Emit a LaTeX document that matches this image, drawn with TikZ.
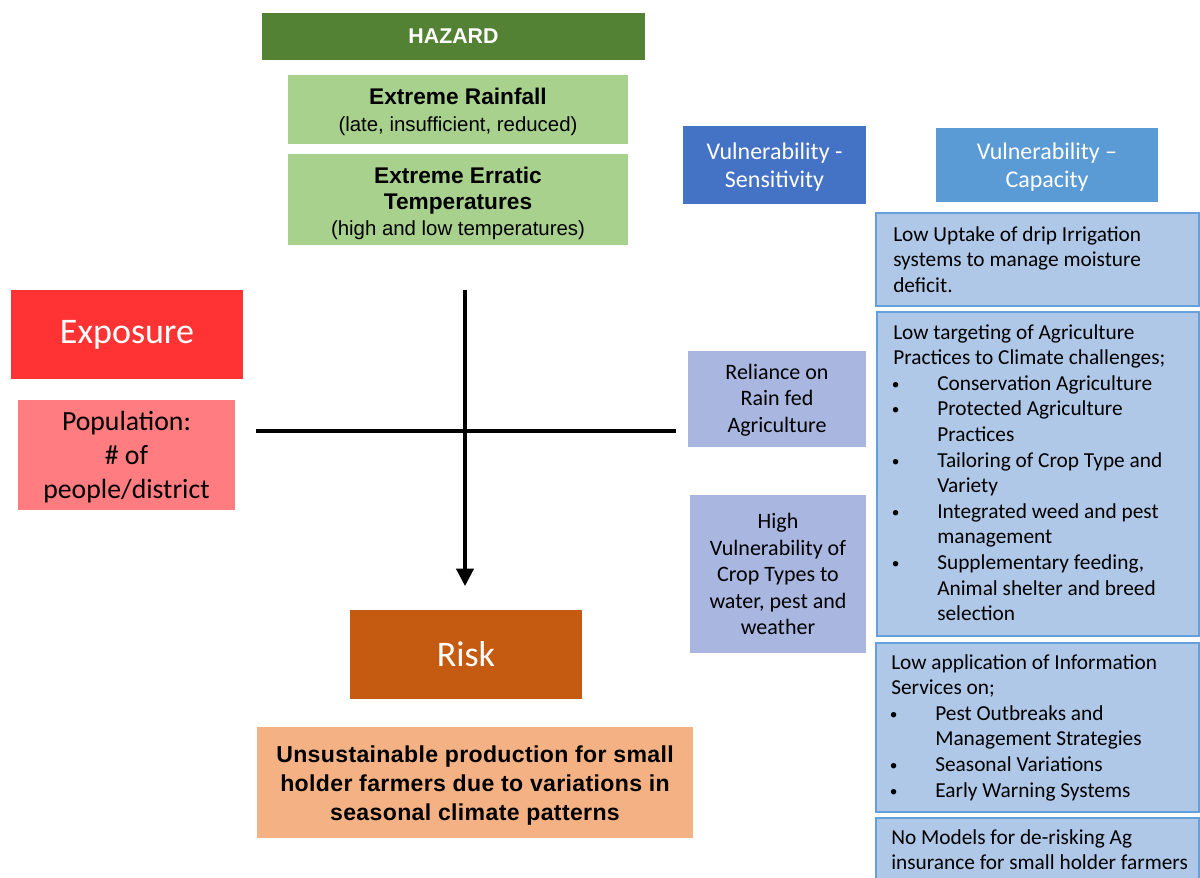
\documentclass[tikz,border=0pt]{standalone}
\usepackage{fontspec}
\setmainfont{Carlito}
\newfontfamily\arialf{Liberation Sans}
\newfontfamily\arialsp[LetterSpace=1.5]{Liberation Sans}
\usetikzlibrary{fit,arrows.meta}
\definecolor{hazgreen}{RGB}{84,130,53}
\definecolor{lightgreen}{RGB}{169,209,142}
\definecolor{sensblue}{RGB}{68,114,196}
\definecolor{capblue}{RGB}{91,155,213}
\definecolor{capfill}{RGB}{176,200,232}
\definecolor{capborder}{RGB}{100,160,220}
\definecolor{relfill}{RGB}{168,182,224}
\definecolor{expred}{RGB}{255,51,51}
\definecolor{popred}{RGB}{255,124,128}
\definecolor{riskor}{RGB}{197,90,17}
\definecolor{unsfill}{RGB}{244,177,131}
\newcommand\bl{\makebox[33pt][l]{\hspace{-1pt}\raisebox{0.8pt}{\fontsize{11.5pt}{11pt}\selectfont\textbullet}}}
\newcommand\ind{\hspace*{33pt}}
\begin{document}
\begin{tikzpicture}[x=0.75pt,y=-0.75pt,
  area/.style={inner sep=0pt, outer sep=0pt},
  txt/.style={inner sep=0pt, outer sep=0pt, align=center},
  capbox/.style={inner sep=0pt, outer sep=0pt, fill=capfill, draw=capborder, line width=1.1pt},
  captext/.style={anchor=north west, inner sep=0pt, align=left, font=\fontsize{16pt}{19.2pt}\selectfont},
  bigwhite/.style={txt, text=white, font=\fontsize{27pt}{32pt}\selectfont},
  hdr/.style={txt, text=white, font=\fontsize{18pt}{21pt}\selectfont},
  relt/.style={txt, font=\fontsize{16.5pt}{19.9pt}\selectfont},
  conn/.style={line width=2.3pt, black}
]
\useasboundingbox (0,0) rectangle (1200,878);
\clip (0,0) rectangle (1200,878);

% Hazard
\node[area, fill=hazgreen, fit={(262,13) (645,60)}] (hazard) {};
\node[txt, text=white, font=\arialf\bfseries\fontsize{16pt}{19pt}\selectfont] (hazardt) at (hazard.center) {HAZARD};
\node[area, fill=lightgreen, fit={(288,75) (628,144)}] (rain) {};
\node[txt, font=\arialf\fontsize{17pt}{20pt}\selectfont] (raint) at ([yshift=-2pt]rain.center) {{\bfseries Extreme Rainfall}\\{\fontsize{15.3pt}{20pt}\selectfont (late, insufficient, reduced)}};
\node[area, fill=lightgreen, fit={(288,154) (628,245)}] (temp) {};
\node[txt, font=\arialf\fontsize{17pt}{19.5pt}\selectfont] (tempt) at ([yshift=-3pt]temp.center) {{\bfseries Extreme Erratic}\\{\bfseries Temperatures}\\{\fontsize{15.3pt}{19.5pt}\selectfont (high and low temperatures)}};

% Vulnerability headers
\node[area, fill=sensblue, fit={(683,126) (866,204)}] (sens) {};
\node[hdr] (senst) at ([yshift=-1.8pt]sens.center) {Vulnerability -\\ Sensitivity};
\node[area, fill=capblue, fit={(936,128) (1158,202)}] (cap) {};
\node[hdr] (capt) at ([yshift=-1.5pt]cap.center) {Vulnerability --\\ Capacity};

% Capacity boxes
\node[capbox, fit={(876,213) (1199,306)}] (c1) {};
\node[captext] (c1t) at (893,226) {Low Uptake of drip Irrigation\\ systems to manage moisture\\ deficit.};
\node[capbox, fit={(877,312) (1199,636)}] (c2) {};
\node[captext] (c2t) at (893,324) {Low targeting of Agriculture\\ Practices to Climate challenges;\\
\bl Conservation Agriculture\\
\bl Protected Agriculture\\ \ind Practices\\
\bl Tailoring of Crop Type and\\ \ind Variety\\
\bl Integrated weed and pest\\ \ind management\\
\bl Supplementary feeding,\\ \ind Animal shelter and breed\\ \ind selection};
\node[capbox, fit={(876,643) (1199,812)}] (c3) {};
\node[captext] (c3t) at (891,654) {Low application of Information\\ Services on;\\
\bl Pest Outbreaks and\\ \ind Management Strategies\\
\bl Seasonal Variations\\
\bl Early Warning Systems};
\node[capbox, fit={(876,818) (1199,890)}] (c4) {};
\node[captext] (c4t) at (891,829) {No Models for de-risking Ag\\ insurance for small holder farmers};

% Sensitivity boxes
\node[area, fill=relfill, fit={(688,351) (866,447)}] (rel) {};
\node[relt] (relt) at ([yshift=-0.8pt]rel.center) {Reliance on\\ Rain fed\\ Agriculture};
\node[area, fill=relfill, fit={(690,495) (866,653)}] (crop) {};
\node[relt] (cropt) at (crop.center) {High\\ Vulnerability of\\ Crop Types to\\ water, pest and\\ weather};

% Exposure
\node[area, fill=expred, fit={(11,290) (243,379)}] (exp) {};
\node[bigwhite] (expt) at (exp.center) {Exposure};
\node[area, fill=popred, fit={(18,400) (235,510)}] (pop) {};
\node[txt, font=\fontsize{20.8pt}{25.5pt}\selectfont] (popt) at ([yshift=-1.5pt]pop.center) {Population:\\ \# of\\ people/district};

% Risk
\node[area, fill=riskor, fit={(350,610) (582,699)}] (risk) {};
\node[bigwhite] (riskt) at (risk.center) {Risk};
\node[area, fill=unsfill, fit={(257,727) (693,838)}] (uns) {};
\node[txt, font=\arialsp\bfseries\fontsize{17.3pt}{21.75pt}\selectfont] (unst) at ([yshift=-2pt]uns.center) {Unsustainable production for small\\ holder farmers due to variations in\\ seasonal climate patterns};

% Axes
\coordinate (hl) at (256,431);
\coordinate (hr) at (676,431);
\coordinate (vt) at (465,290);
\coordinate (vb) at (465,586);
\draw[conn] (hl) -- (hr);
\draw[conn, -{Triangle[length=13pt,width=13pt]}] (vt) -- (vb);
\end{tikzpicture}
\end{document}
